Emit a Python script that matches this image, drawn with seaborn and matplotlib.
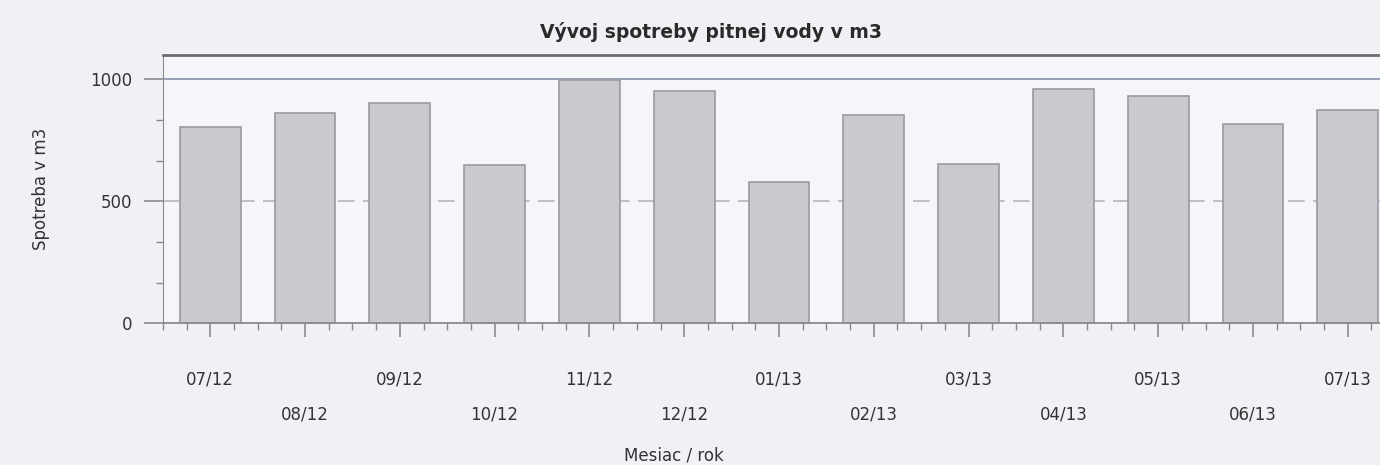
import numpy as np
import pandas as pd
import matplotlib
matplotlib.use("Agg")
import matplotlib.pyplot as plt
from matplotlib.transforms import ScaledTranslation
from matplotlib.ticker import MultipleLocator, FixedLocator
import seaborn as sns

# values
months = ["07/12", "08/12", "09/12", "10/12", "11/12", "12/12", "01/13",
          "02/13", "03/13", "04/13", "05/13", "06/13", "07/13"]
consumption = [803, 861, 902, 648, 996, 951, 578, 852, 652, 959, 930, 816, 873]

title = "Vývoj spotreby pitnej vody v m3"
y_label = "Spotreba v m3"
x_label = "Mesiac / rok"
y_ticks = [0, 500, 1000]

df = pd.DataFrame({"mesiac": months, "spotreba": consumption})

sns.set_style("white")
plt.rcParams["font.family"] = ["DejaVu Sans"]

fig = plt.figure(figsize=(13.8, 4.65), dpi=100, facecolor="#eff1f5")
ax = fig.add_axes([0.118, 0.305, 0.882, 0.577])
ax.set_facecolor("#f5f6f9")

sns.barplot(data=df, x="mesiac", y="spotreba", ax=ax, color="#c9cacf",
            width=0.64, edgecolor="#9a9ba0", linewidth=1.2, saturation=1)

ax.set_xlim(-0.5, 12.34)
ax.set_ylim(0, 1100)

# reference lines
ax.axhline(1000, color="#8e9ab0", lw=1.3, zorder=0)
ax.axhline(500, color="#b4b6bb", lw=1.2, ls=(0, (10, 5)), zorder=0)

ax.spines["right"].set_visible(False)
ax.spines["top"].set_color("#6e6e72")
ax.spines["top"].set_linewidth(2)
ax.spines["left"].set_color("#8a8a8e")
ax.spines["bottom"].set_color("#8a8a8e")
ax.spines["bottom"].set_linewidth(1.3)

ax.set_yticks(y_ticks)
ax.set_yticklabels([str(v) for v in y_ticks])
ax.yaxis.set_minor_locator(FixedLocator([500 / 3 * k for k in range(1, 6) if k != 3]))
ax.xaxis.set_minor_locator(MultipleLocator(0.25))
ax.tick_params(axis="both", which="both", bottom=True, left=True, direction="out")
ax.tick_params(axis="y", which="major", length=14, width=1.2, color="#8a8a8e",
               pad=8, labelsize=12, labelcolor="#333333")
ax.tick_params(axis="y", which="minor", length=5, width=1, color="#8a8a8e")
ax.tick_params(axis="x", which="major", length=10, width=1.2, color="#8a8a8e",
               pad=24, labelsize=12, labelcolor="#333333")
ax.tick_params(axis="x", which="minor", length=5, width=1, color="#8a8a8e")

# stagger every second month label onto a lower row
for i, lab in enumerate(ax.get_xticklabels()):
    if i % 2 == 1:
        lab.set_transform(lab.get_transform() +
                          ScaledTranslation(0, -0.35, fig.dpi_scale_trans))

ax.set_xlabel(x_label, fontsize=12, color="#333333")
ax.set_ylabel(y_label, fontsize=12, color="#333333")
ax.xaxis.set_label_coords(0.42, -0.46)
ax.yaxis.set_label_coords(-0.093, 0.5)
ax.set_title(title, fontsize=13.5, fontweight="bold", color="#2a2a2a", pad=12,
             x=0.45)

fig.savefig("out.png", dpi=100, facecolor=fig.get_facecolor())
